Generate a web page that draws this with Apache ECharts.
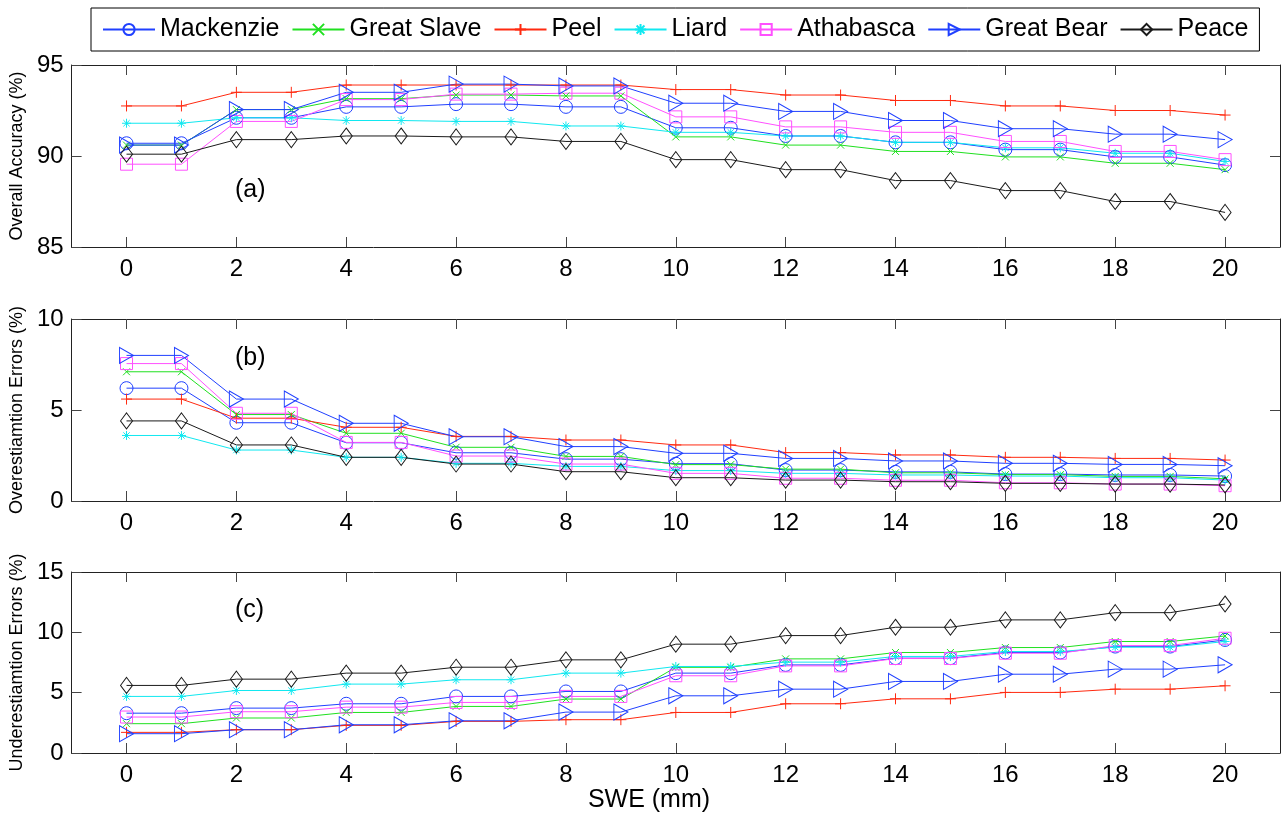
<!DOCTYPE html>
<html>
<head>
<meta charset="utf-8">
<title>SWE accuracy</title>
<script src="https://cdn.jsdelivr.net/npm/echarts@6/dist/echarts.min.js"></script>
<style>
  html, body { margin: 0; padding: 0; background: #fff; }
  #chart { width: 1282px; height: 816px; }
</style>
</head>
<body>
<div id="chart"></div>
<script>
const swe = [0,1,2,3,4,5,6,7,8,9,10,11,12,13,14,15,16,17,18,19,20]
const xTicks = [0,2,4,6,8,10,12,14,16,18,20]
const regions = ['Mackenzie', 'Great Slave', 'Peel', 'Liard', 'Athabasca', 'Great Bear', 'Peace']

// (a) overall accuracy (%)
const oaMackenzie = [90.7,90.7,92.1,92.1,92.7,92.7,92.85,92.85,92.7,92.7,91.55,91.55,91.1,91.1,90.75,90.75,90.35,90.35,89.95,89.95,89.5]
const oaGreatSlave = [90.6,90.6,92.55,92.55,93.15,93.15,93.35,93.35,93.3,93.3,91.05,91.05,90.6,90.6,90.25,90.25,89.95,89.95,89.6,89.6,89.25]
const oaPeel = [92.75,92.75,93.5,93.5,93.9,93.9,93.9,93.9,93.9,93.9,93.65,93.65,93.35,93.35,93.05,93.05,92.75,92.75,92.5,92.5,92.25]
const oaLiard = [91.8,91.8,92.1,92.1,91.95,91.95,91.9,91.9,91.65,91.65,91.3,91.3,91.1,91.1,90.75,90.75,90.45,90.45,90.15,90.15,89.7]
const oaAthabasca = [89.55,89.55,91.9,91.9,93.1,93.1,93.4,93.4,93.45,93.45,92.15,92.15,91.6,91.6,91.3,91.3,90.8,90.8,90.25,90.25,89.8]
const oaGreatBear = [90.6,90.6,92.55,92.55,93.5,93.5,93.95,93.95,93.85,93.85,92.9,92.9,92.45,92.45,91.95,91.95,91.5,91.5,91.2,91.2,90.9]
const oaPeace = [90.1,90.1,90.9,90.9,91.1,91.1,91.05,91.05,90.8,90.8,89.8,89.8,89.25,89.25,88.65,88.65,88.1,88.1,87.5,87.5,86.9]

// (b) overestimation errors (%)
const oeMackenzie = [6.2,6.2,4.3,4.3,3.2,3.2,2.65,2.65,2.3,2.3,2.05,2.05,1.7,1.7,1.6,1.6,1.48,1.48,1.43,1.43,1.37]
const oeGreatSlave = [7.1,7.1,4.75,4.75,3.72,3.72,2.95,2.95,2.45,2.45,2.0,2.0,1.75,1.75,1.55,1.55,1.45,1.45,1.35,1.35,1.22]
const oePeel = [5.6,5.6,4.55,4.55,4.05,4.05,3.55,3.55,3.35,3.35,3.08,3.08,2.66,2.66,2.53,2.53,2.4,2.4,2.34,2.34,2.25]
const oeLiard = [3.6,3.6,2.8,2.8,2.4,2.4,2.07,2.07,1.9,1.9,1.67,1.67,1.52,1.52,1.43,1.43,1.37,1.37,1.28,1.28,1.15]
const oeAthabasca = [7.55,7.55,4.82,4.82,3.22,3.22,2.47,2.47,2.03,2.03,1.52,1.52,1.25,1.25,1.14,1.14,1.0,1.0,0.93,0.93,0.84]
const oeGreatBear = [8.0,8.0,5.6,5.6,4.27,4.27,3.53,3.53,2.99,2.99,2.62,2.62,2.34,2.34,2.2,2.2,2.07,2.07,2.01,2.01,1.94]
const oePeace = [4.4,4.4,3.08,3.08,2.4,2.4,2.03,2.03,1.61,1.61,1.28,1.28,1.15,1.15,1.06,1.06,0.97,0.97,0.93,0.93,0.88]

// (c) underestimation errors (%)
const ueMackenzie = [3.3,3.3,3.72,3.72,4.08,4.08,4.69,4.69,5.1,5.1,6.62,6.62,7.3,7.3,7.86,7.86,8.33,8.33,8.82,8.82,9.37]
const ueGreatSlave = [2.43,2.43,2.9,2.9,3.36,3.36,3.86,3.86,4.47,4.47,7.1,7.1,7.8,7.8,8.33,8.33,8.74,8.74,9.24,9.24,9.7]
const uePeel = [1.71,1.71,1.93,1.93,2.29,2.29,2.62,2.62,2.76,2.76,3.36,3.36,4.08,4.08,4.49,4.49,5.02,5.02,5.29,5.29,5.57]
const ueLiard = [4.69,4.69,5.18,5.18,5.71,5.71,6.07,6.07,6.62,6.62,7.17,7.17,7.53,7.53,8.0,8.0,8.41,8.41,8.77,8.77,9.24]
const ueAthabasca = [2.98,2.98,3.42,3.42,3.8,3.8,4.19,4.19,4.69,4.69,6.4,6.4,7.22,7.22,7.83,7.83,8.27,8.27,8.9,8.9,9.51]
const ueGreatBear = [1.6,1.6,1.93,1.93,2.34,2.34,2.67,2.67,3.39,3.39,4.74,4.74,5.29,5.29,5.93,5.93,6.53,6.53,6.95,6.95,7.31]
const uePeace = [5.6,5.6,6.12,6.12,6.62,6.62,7.11,7.11,7.72,7.72,9.02,9.02,9.73,9.73,10.42,10.42,11.03,11.03,11.63,11.63,12.35]

const panelData = [
  [oaMackenzie, oaGreatSlave, oaPeel, oaLiard, oaAthabasca, oaGreatBear, oaPeace],
  [oeMackenzie, oeGreatSlave, oePeel, oeLiard, oeAthabasca, oeGreatBear, oePeace],
  [ueMackenzie, ueGreatSlave, uePeel, ueLiard, ueAthabasca, ueGreatBear, uePeace]
]
const panelNames = ['Overall Accuracy (%)', 'Overestiamtion Errors (%)', 'Underestiamtion Errors (%)']
const panelTags = ['(a)', '(b)', '(c)']
const yRanges = [[85, 95], [0, 10], [0, 15]]

const FONT = 'Liberation Sans, Arial, Helvetica, sans-serif'
const colors = ['#2040ff', '#20e020', '#ff2a10', '#10e8f0', '#ff50ff', '#2040ff', '#1a1a1a']
const symbols = [
  'circle',
  'path://M0,0L10,10M10,0L0,10',
  'path://M5,0L5,10M0,5L10,5',
  'path://M5,0L5,10M0,5L10,5M1.5,1.5L8.5,8.5M8.5,1.5L1.5,8.5',
  'rect',
  'path://M0,0L10,5L0,10Z',
  'diamond'
]
const symbolSizes = [13, 7, 11, 9, 12, [14, 16], [12, 16]]

const gridTops = [65, 319, 572]
const gridHeights = [182, 182, 181]
const tagY = [190, 358, 610]

const tickStyle = { color: '#444', width: 1 }
const lineAxis = { show: true, onZero: false, lineStyle: { color: '#222', width: 1 } }

const grids = []
const xAxes = []
const yAxes = []
const series = []

for (let p = 0; p < 3; p++) {
  grids.push({ left: 71, width: 1209, top: gridTops[p], height: gridHeights[p] })

  // bottom (labelled) + top (box) x axes
  xAxes.push({
    type: 'value', gridIndex: p, min: -1, max: 21, position: 'bottom',
    axisLine: lineAxis,
    axisTick: { inside: true, length: 10, customValues: xTicks, lineStyle: tickStyle },
    axisLabel: { customValues: xTicks, fontSize: 24, color: '#000', fontFamily: FONT, margin: 10 },
    splitLine: { show: false }
  })
  xAxes.push({
    type: 'value', gridIndex: p, min: -1, max: 21, position: 'top',
    axisLine: lineAxis,
    axisTick: { inside: true, length: 10, customValues: xTicks, lineStyle: tickStyle },
    axisLabel: { show: false },
    splitLine: { show: false }
  })

  yAxes.push({
    type: 'value', gridIndex: p, min: yRanges[p][0], max: yRanges[p][1], interval: 5, position: 'left',
    name: panelNames[p], nameLocation: 'middle', nameGap: 44,
    nameTextStyle: { fontSize: 18, color: '#000', fontFamily: FONT },
    axisLine: lineAxis,
    axisTick: { inside: true, length: 10, lineStyle: tickStyle },
    axisLabel: { fontSize: 24, color: '#000', fontFamily: FONT, margin: 8 },
    splitLine: { show: false }
  })
  yAxes.push({
    type: 'value', gridIndex: p, min: yRanges[p][0], max: yRanges[p][1], interval: 5, position: 'right',
    axisLine: lineAxis,
    axisTick: { inside: true, length: 10, lineStyle: tickStyle },
    axisLabel: { show: false },
    splitLine: { show: false }
  })

  regions.forEach((name, i) => {
    series.push({
      name,
      type: 'line',
      xAxisIndex: p * 2,
      yAxisIndex: p * 2,
      data: swe.map((x, k) => [x, panelData[p][i][k]]),
      symbol: symbols[i],
      symbolSize: symbolSizes[i],
      showAllSymbol: true,
      lineStyle: { color: colors[i], width: 1 },
      itemStyle: { color: 'transparent', borderColor: colors[i], borderWidth: 1 },
      emphasis: { disabled: true },
      animation: false
    })
  })
}

const chart = echarts.init(document.getElementById('chart'), null, { renderer: 'canvas' })

chart.setOption({
  backgroundColor: '#fff',
  animation: false,
  legend: {
    data: regions,
    left: 91,
    top: 8,
    padding: [9, 11],
    itemWidth: 52,
    itemHeight: 14,
    itemGap: 12,
    borderColor: '#000',
    borderWidth: 1,
    textStyle: { fontSize: 25, color: '#000', fontFamily: FONT }
  },
  grid: grids,
  xAxis: xAxes,
  yAxis: yAxes,
  series,
  graphic: [
    ...panelTags.map((t, p) => ({
      type: 'text', x: 235, y: tagY[p],
      style: { text: t, font: '25px ' + FONT, fill: '#000', verticalAlign: 'middle' }
    })),
    {
      type: 'text', x: 649, y: 800,
      style: { text: 'SWE (mm)', font: '25px ' + FONT, fill: '#000', align: 'center', verticalAlign: 'middle' }
    }
  ]
})

window.addEventListener('resize', () => chart.resize())
</script>
</body>
</html>
